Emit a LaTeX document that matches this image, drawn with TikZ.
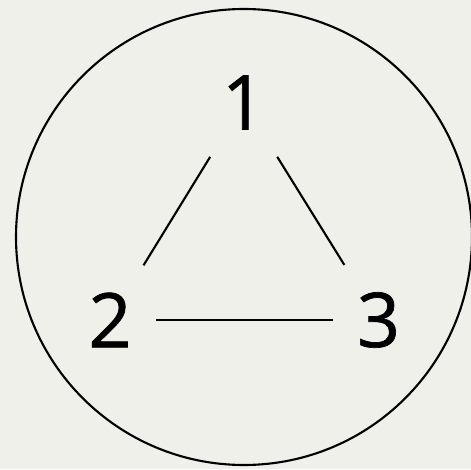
\documentclass[tikz,border=0pt]{standalone}
\usepackage{fontspec}
\setmainfont{Open Sans}
\newfontfamily\digitfont[BoldFont={Open Sans},BoldFeatures={FakeBold=0.9}]{Open Sans}
\usetikzlibrary{positioning}
\definecolor{bgpaper}{HTML}{F0F0EB}

\tikzset{
  vertexlabel/.style={font=\digitfont\bfseries\fontsize{43}{47}\selectfont,
    inner xsep=0.48cm, inner ysep=0.54cm},
  edgeline/.style={line width=1.2pt, black}
}

\begin{document}
\begin{tikzpicture}
\fill[bgpaper] (0,0) rectangle (9.42,9.38);
\useasboundingbox (0,0) rectangle (9.42,9.38);

\draw[line width=1.2pt] (4.88,4.64) circle (4.56);

\node[vertexlabel] (v1) at (4.87,7.33) {1};
\node[vertexlabel] (v2) at (2.20,2.98) {2};
\node[vertexlabel] (v3) at (7.57,2.98) {3};

\draw[edgeline] (v1) -- (v2);
\draw[edgeline] (v1) -- (v3);
\draw[edgeline] (v2) -- (v3);
\end{tikzpicture}
\end{document}
